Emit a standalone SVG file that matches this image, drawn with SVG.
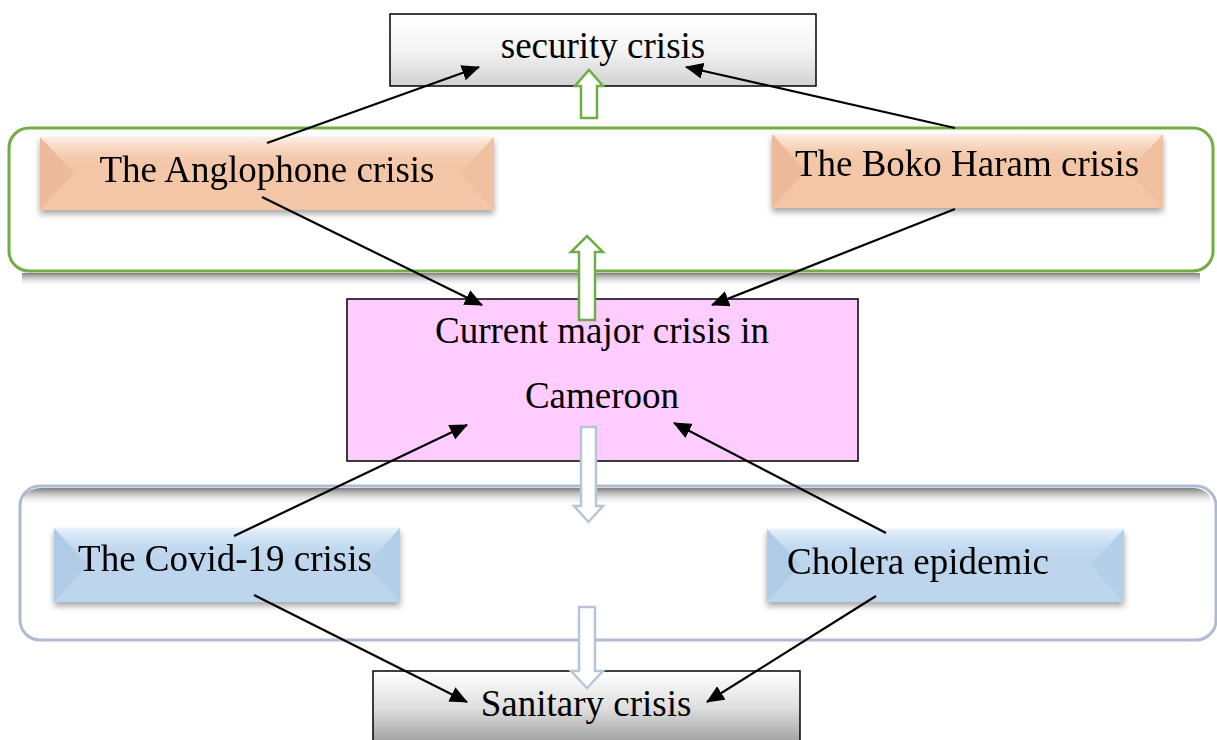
<svg xmlns="http://www.w3.org/2000/svg" width="1217" height="740" viewBox="0 0 1217 740">
<defs>
<style>
.t{font-family:"Liberation Serif","Times New Roman",serif;font-size:37px;fill:#000;text-anchor:middle}
.con{stroke:#000;stroke-width:2.2;fill:none;marker-end:url(#ah)}
.garr{fill:#fff;stroke:#70AD47;stroke-width:2.5}
.barr{fill:#fff;stroke:#B7C5DA;stroke-width:2.5}
</style>
<marker id="ah" markerUnits="userSpaceOnUse" markerWidth="18" markerHeight="16" refX="17" refY="8" orient="auto" viewBox="0 0 18 16">
<path d="M0,0 L18,8 L0,16 z" fill="#000"/>
</marker>
<linearGradient id="gGray" x1="0" y1="0" x2="0" y2="1">
<stop offset="0" stop-color="#ffffff"/><stop offset="0.5" stop-color="#f4f4f4"/><stop offset="1" stop-color="#d2d2d2"/>
</linearGradient>
<linearGradient id="gGray2" x1="0" y1="0" x2="0" y2="1">
<stop offset="0" stop-color="#ffffff"/><stop offset="0.5" stop-color="#dedede"/><stop offset="1" stop-color="#9a9a9a"/>
</linearGradient>
<linearGradient id="gPeachTop" x1="0" y1="0" x2="0" y2="1">
<stop offset="0" stop-color="#fdf0e6"/><stop offset="1" stop-color="#f5c9ab" stop-opacity="0"/>
</linearGradient>
<linearGradient id="gBlueTop" x1="0" y1="0" x2="0" y2="1">
<stop offset="0" stop-color="#e8f2fb"/><stop offset="1" stop-color="#bdd6ee" stop-opacity="0"/>
</linearGradient>
<linearGradient id="shDown" x1="0" y1="0" x2="0" y2="1">
<stop offset="0" stop-color="#666" stop-opacity="0.85"/><stop offset="1" stop-color="#fff" stop-opacity="0"/>
</linearGradient>
<filter id="ds" x="-10%" y="-10%" width="120%" height="140%">
<feDropShadow dx="0" dy="4" stdDeviation="3" flood-color="#000" flood-opacity="0.35"/>
</filter>
</defs>

<!-- containers -->
<g id="security-group">
<rect x="9" y="128" width="1204" height="143" rx="20" fill="#fff" stroke="#70AD47" stroke-width="3"/>
<rect x="22" y="273" width="1178" height="14" fill="url(#shDown)"/>
</g>
<g id="sanitary-group">
<rect x="20" y="486" width="1196" height="154" rx="20" fill="#fff" stroke="#AEBBD0" stroke-width="3"/>
<path d="M42,488 H1193 Q1204,488 1210,496 V506 H24 V496 Q30,488 42,488 z" fill="url(#shDown)"/>
</g>

<!-- nodes -->
<g id="security-crisis">
<rect x="390" y="14" width="426" height="72" fill="url(#gGray)" stroke="#000" stroke-width="1.5"/>
<text class="t" x="603" y="58">security crisis</text>
</g>

<g id="anglophone" filter="url(#ds)">
<rect x="40" y="137" width="454" height="73" fill="#F3C6A7"/>
<rect x="40" y="137" width="454" height="30" fill="url(#gPeachTop)"/>
<polygon points="40,137 74,173 40,210" fill="#EDBB9B"/>
<polygon points="494,137 460,173 494,210" fill="#F0C0A1"/>
<text class="t" x="267" y="182">The Anglophone crisis</text>
</g>

<g id="boko-haram" filter="url(#ds)">
<rect x="772" y="134" width="391" height="74" fill="#F3C6A7"/>
<rect x="772" y="134" width="391" height="30" fill="url(#gPeachTop)"/>
<polygon points="772,134 806,171 772,208" fill="#EDBB9B"/>
<polygon points="1163,134 1129,171 1163,208" fill="#F0C0A1"/>
<text class="t" x="967" y="176">The Boko Haram crisis</text>
</g>

<g id="current-crisis">
<rect x="347" y="299" width="511" height="162" fill="#FFCCFF" stroke="#000" stroke-width="1.5"/>
<text class="t" x="602" y="343">Current major crisis in</text>
<text class="t" x="602" y="408">Cameroon</text>
</g>

<g id="covid" filter="url(#ds)">
<rect x="54" y="528" width="346" height="74" fill="#BDD6EE"/>
<rect x="54" y="528" width="346" height="30" fill="url(#gBlueTop)"/>
<polygon points="54,528 88,565 54,602" fill="#B0CCE7"/>
<polygon points="400,528 366,565 400,602" fill="#B4CFE9"/>
<text class="t" x="225" y="571">The Covid-19 crisis</text>
</g>

<g id="cholera" filter="url(#ds)">
<rect x="767" y="529" width="357" height="73" fill="#BDD6EE"/>
<rect x="767" y="529" width="357" height="30" fill="url(#gBlueTop)"/>
<polygon points="767,529 801,565 767,602" fill="#B0CCE7"/>
<polygon points="1124,529 1090,565 1124,602" fill="#B4CFE9"/>
<text class="t" x="918" y="574">Cholera epidemic</text>
</g>

<g id="sanitary-crisis">
<rect x="373" y="671" width="427" height="75" fill="url(#gGray2)" stroke="#000" stroke-width="1.5"/>
<text class="t" x="586" y="716">Sanitary crisis</text>
</g>

<!-- block arrows -->
<g id="block-arrows">
<polygon class="garr" points="581,118 581,86 575,86 589,70 603,86 597,86 597,118"/>
<polygon class="garr" points="579,320 579,252 571,252 587,236 603,252 595,252 595,320"/>
<polygon class="barr" points="581,427 596,427 596,506 603,506 588.5,522 574,506 581,506"/>
<polygon class="barr" points="579,607 595,607 595,671 603,671 587,688 571,671 579,671"/>
</g>

<!-- connectors -->
<g id="connectors">
<line class="con" x1="267" y1="143" x2="479" y2="67"/>
<line class="con" x1="955" y1="128" x2="686" y2="67"/>
<line class="con" x1="262" y1="197" x2="482" y2="305"/>
<line class="con" x1="955" y1="209" x2="712" y2="305"/>
<line class="con" x1="234" y1="536" x2="467" y2="425"/>
<line class="con" x1="886" y1="533" x2="674" y2="423"/>
<line class="con" x1="254" y1="595" x2="467" y2="702"/>
<line class="con" x1="876" y1="596" x2="707" y2="702"/>
</g>
</svg>
